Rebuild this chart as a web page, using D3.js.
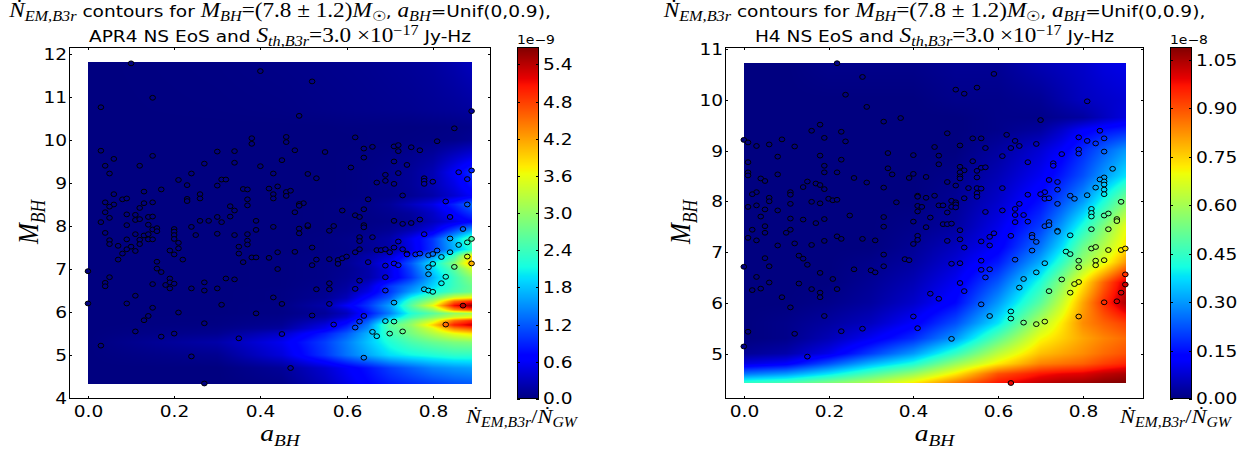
<!DOCTYPE html>
<html><head><meta charset="utf-8">
<script src="https://cdnjs.cloudflare.com/ajax/libs/d3/7.8.5/d3.min.js"></script>
<style>html,body{margin:0;padding:0;background:#fff}svg{display:block}</style></head>
<body><svg id="c" width="1250" height="452"></svg>
<script>
// ---------- data ----------
const xTicks=[0,0.2,0.4,0.6,0.8];
const yTicksL=[4,5,6,7,8,9,10,11,12];
const yTicksR=[5,6,7,8,9,10,11];
const cTicksL=[0,0.6,1.2,1.8,2.4,3.0,3.6,4.2,4.8,5.4];
const cTicksR=[0,0.15,0.30,0.45,0.60,0.75,0.90,1.05];
const colsL=[0,.3,.45,.55,.6,.65,.7,.75,.8,.85,.89];
const rowsL=[4.33,4.7,5,5.3,5.5,5.62,5.7,5.8,5.88,5.97,6.05,6.15,6.25,6.33,6.47,6.6,6.8,7,7.13,7.3,7.45,7.7,7.9,8.1,8.3,8.5,8.7,8.95,9.25,9.6,10,10.3,10.7,11.8];
const fieldL=[
[0,0,.05,.3,.5,.7,.85,.95,1.05,1.15,1.2],
[0,0,.12,.4,.6,.8,1.05,1.25,1.45,1.55,1.6],
[0,.08,.45,1,1.35,1.65,1.95,2.1,2.2,2.3,2.3],
[0,.2,.55,1.05,1.4,1.8,2.2,2.5,2.7,2.85,2.9],
[0,.08,.35,.85,1.2,1.7,2.4,2.8,3.2,3.6,3.8],
[0,.04,.15,.55,.95,1.5,2.5,2.9,3.5,4.4,4.7],
[0,.02,.1,.45,.8,1.4,2.6,3,3.9,5,5.3],
[0,.01,.07,.3,.6,1.2,2.1,2.8,3.4,4.5,4.9],
[0,.01,.05,.18,.4,.95,1.7,2.4,2.9,3.4,3.6],
[0,0,.03,.12,.3,.8,1.4,2.2,2.6,3,3.1],
[0,0,.03,.15,.4,.9,1.5,2.4,3,4.3,4.7],
[0,0,.03,.2,.6,1,1.6,2.6,3.6,5.1,5.6],
[0,0,.02,.15,.4,.9,1.4,2.4,3.1,4.5,4.9],
[0,0,.02,.1,.28,.75,1.2,2.1,2.7,3.5,3.7],
[0,0,.02,.08,.2,.5,1,1.6,2.1,2.5,2.7],
[0,0,.01,.06,.15,.4,1,1.4,1.9,2.4,2.7],
[0,0,.01,.04,.1,.2,.5,1,1.7,2.4,2.9],
[0,0,.01,.04,.08,.2,.5,1.1,1.9,2.6,3.4],
[0,0,.01,.04,.1,.25,.6,1.2,2,2.9,4.1],
[0,0,.01,.03,.08,.2,.4,.9,1.5,2.4,3.8],
[0,0,0,.02,.04,.1,.2,.5,1,1.7,2.2],
[0,0,0,.02,.05,.1,.2,.55,1,1.8,2.5],
[0,0,0,.01,.02,.05,.1,.25,.5,1.1,1.6],
[0,0,0,.01,.01,.03,.05,.1,.3,.5,.7],
[0,0,0,.01,.02,.04,.08,.15,.35,.7,1],
[0,0,0,.01,.03,.05,.12,.3,.5,.9,1.3],
[0,0,0,0,.01,.03,.05,.1,.2,.4,.6],
[0,0,0,0,.01,.03,.06,.12,.25,.5,.8],
[0,0,0,0,.01,.03,.06,.12,.25,.6,.95],
[0,0,0,0,.01,.02,.04,.08,.15,.35,.5],
[0,0,0,0,0,.01,.01,.02,.03,.05,.1],
[0,0,0,0,.01,.01,.01,.01,.02,.03,.05],
[0,.01,.02,.04,.05,.06,.07,.08,.1,.12,.15],
[0,.02,.04,.06,.07,.08,.1,.12,.15,.22,.3]];
const colsR=[0,.1,.2,.3,.4,.5,.6,.7,.75,.8,.85,.902];
const rowsR=[4.42,4.6,4.8,5,5.3,5.6,6,6.4,6.8,7.1,7.5,8,8.5,9,9.4,9.65,10,10.73];
const fieldR=[
[.45,.48,.55,.62,.72,.85,.97,1.03,1.05,1.06,1.08,1.09],
[.26,.3,.38,.48,.58,.72,.9,.97,.99,1,1.03,1.05],
[.09,.12,.22,.33,.42,.58,.72,.84,.86,.88,.92,.95],
[.02,.04,.1,.2,.3,.45,.63,.77,.8,.83,.87,.9],
[0,.01,.05,.11,.18,.3,.5,.7,.75,.8,.84,.87],
[0,.01,.03,.06,.12,.22,.38,.62,.72,.83,.88,.92],
[0,0,.01,.03,.07,.14,.3,.5,.64,.8,.94,1.05],
[0,0,0,.02,.05,.11,.23,.42,.56,.72,.88,1.02],
[0,0,0,.01,.03,.08,.16,.32,.44,.58,.68,.82],
[0,0,0,0,.02,.06,.12,.26,.37,.52,.62,.73],
[0,0,0,0,.01,.03,.1,.2,.3,.42,.55,.69],
[0,0,0,0,0,.02,.07,.15,.22,.3,.42,.55],
[0,0,0,0,0,.01,.05,.11,.16,.22,.3,.38],
[0,0,0,0,0,0,.03,.08,.12,.18,.24,.3],
[0,0,0,0,0,0,.01,.03,.07,.12,.15,.17],
[0,0,0,0,0,0,.01,.01,.02,.03,.06,.09],
[0,0,0,0,0,.01,.01,.02,.04,.06,.07,.08],
[0,0,.01,.01,.01,.02,.02,.05,.06,.07,.09,.1]];
const pointsL=[[.10,11.78],[.40,11.6],[.52,11.36],[.15,10.98],[.03,10.76],[.89,10.67],[.49,10.56],[.85,10.27],[.81,9.97],[.38,10.04],[.38,9.91],[.46,10.07],[.46,9.95],[.62,10.06],[.64,9.8],[.66,9.84],[.71,9.85],[.72,9.88],[.72,9.74],[.75,9.83],[.77,9.76],[.03,9.75],[.15,9.63],[.06,9.56],[.30,9.73],[.34,9.74],[.48,9.76],[.55,9.72],[.45,9.53],[.64,9.59],[.71,9.5],[.27,9.45],[.34,9.47],[.04,9.4],[.12,9.4],[.40,9.39],[.74,9.42],[.61,9.36],[.05,9.22],[.24,9.22],[.43,9.22],[.51,9.21],[.69,9.19],[.72,9.23],[.86,9.25],[.89,9.29],[.88,9.09],[.53,9.11],[.78,9.11],[.78,9.05],[.78,8.98],[.80,9.03],[.69,9.05],[.67,9.01],[.71,8.98],[.21,9.07],[.31,9.08],[.32,9.08],[.23,8.95],[.30,8.94],[.44,8.92],[.17,8.85],[.13,8.8],[.36,8.86],[.37,8.85],[.42,8.87],[.43,8.74],[.46,8.79],[.47,8.82],[.46,8.7],[.26,8.74],[.26,8.64],[.23,8.63],[.23,8.58],[.73,8.71],[.06,8.74],[.08,8.62],[.09,8.64],[.65,8.62],[.37,8.62],[.43,8.64],[.83,8.57],[.88,8.5],[.04,8.55],[.13,8.53],[.15,8.55],[.06,8.5],[.05,8.45],[.50,8.53],[.49,8.51],[.49,8.47],[.37,8.48],[.33,8.46],[.34,8.36],[.12,8.42],[.59,8.36],[.64,8.39],[.04,8.32],[.05,8.19],[.09,8.27],[.11,8.26],[.11,8.14],[.12,8.16],[.14,8.21],[.15,8.22],[.48,8.32],[.62,8.25],[.63,8.21],[.84,8.21],[.30,8.21],[.33,8.22],[.03,8.09],[.26,8.12],[.28,8.12],[.31,8.09],[.39,8.12],[.71,8.12],[.73,8.05],[.75,8.07],[.77,8.15],[.09,8.02],[.14,8.03],[.24,7.98],[.43,7.98],[.51,7.99],[.51,8.02],[.57,8.0],[.64,8.02],[.64,7.97],[.87,7.93],[.15,7.92],[.16,7.95],[.2,7.93],[.39,7.91],[.49,7.94],[.56,7.89],[.04,7.84],[.11,7.81],[.13,7.78],[.14,7.81],[.16,7.88],[.2,7.87],[.2,7.79],[.2,7.7],[.25,7.79],[.30,7.82],[.34,7.79],[.37,7.81],[.49,7.83],[.09,7.69],[.12,7.68],[.14,7.69],[.15,7.69],[.05,7.67],[.05,7.58],[.12,7.58],[.21,7.61],[.37,7.66],[.37,7.57],[.07,7.54],[.10,7.52],[.35,7.52],[.21,7.48],[.19,7.43],[.09,7.46],[.11,7.42],[.08,7.36],[.2,7.34],[.35,7.36],[.44,7.39],[.48,7.4],[.52,7.5],[.38,7.27],[.39,7.27],[.42,7.26],[.07,7.22],[.22,7.22],[.53,7.22],[.56,7.23],[.58,7.21],[.59,7.25],[.6,7.29],[.16,7.17],[.36,7.16],[.58,7.12],[.65,7.16],[.52,7.09],[.71,7.13],[.72,7.09],[.69,7.08],[.62,7.39],[.63,7.46],[.63,7.74],[.63,7.65],[.66,7.74],[.67,7.44],[.68,7.44],[.69,7.46],[.70,7.39],[.71,7.5],[.72,7.64],[.73,7.46],[.74,7.36],[.74,7.34],[.76,7.34],[.77,7.36],[.78,7.81],[.79,7.32],[.80,7.35],[.81,7.43],[.82,7.28],[.84,7.39],[.84,7.71],[.86,7.56],[.88,7.62],[.89,7.7],[.88,7.29],[.89,7.13],[.85,7.05],[.80,7.12],[.79,7.04],[.79,6.88],[.83,6.82],[.82,6.67],[.78,6.53],[.79,6.5],[.80,6.47],[.69,6.81],[.63,6.73],[.56,6.67],[.62,6.54],[.56,6.53],[.53,6.53],[.69,6.5],[.44,7.0],[.16,7.01],[.17,6.93],[0,6.95],[.05,6.81],[.04,6.68],[.04,6.6],[.15,6.65],[.19,6.78],[.19,6.69],[.2,6.66],[.18,6.63],[.19,6.55],[.24,6.55],[.27,6.69],[.27,6.5],[.30,6.55],[.32,6.78],[.34,6.76],[.11,6.38],[.43,6.34],[0,6.2],[.09,6.2],[.15,6.1],[.31,6.17],[.45,6.19],[.56,6.19],[.71,6.22],[.87,6.15],[.21,5.99],[.39,5.97],[.14,5.91],[.52,5.92],[.64,5.91],[.13,5.81],[.63,5.78],[.69,5.79],[.71,5.78],[.27,5.74],[.57,5.71],[.83,5.71],[.62,5.64],[.11,5.55],[.2,5.5],[.45,5.49],[.66,5.54],[.67,5.44],[.70,5.5],[.73,5.55],[.17,5.43],[.35,5.39],[.03,5.22],[.24,4.97],[.64,4.94],[.47,4.7],[.27,4.34]];
const pointsR=[[.22,10.72],[.28,10.45],[.59,10.51],[.24,10.1],[.5,10.2],[.52,10.12],[.55,10.24],[.81,9.97],[.29,9.86],[.37,9.64],[.33,9.57],[.70,9.6],[.18,9.51],[.16,9.39],[.84,9.39],[0,9.21],[.23,9.37],[.48,9.34],[.62,9.31],[.19,9.25],[.09,9.22],[.54,9.24],[.56,9.24],[.79,9.26],[.85,9.24],[.64,9.19],[.01,9.16],[.24,9.18],[.81,9.19],[.83,9.14],[.03,9.09],[.06,9.12],[.12,9.08],[.51,9.1],[.45,9.07],[.65,9.09],[.69,9.13],[.63,9.05],[.57,9.05],[.79,9.02],[.79,8.94],[.85,8.98],[.34,8.95],[.4,8.91],[.46,8.9],[.18,8.9],[.08,8.88],[.61,8.89],[.75,8.93],[.54,8.79],[.23,8.82],[.01,8.77],[.67,8.77],[.73,8.75],[.73,8.7],[.19,8.7],[.46,8.73],[.51,8.68],[.56,8.66],[.57,8.67],[.34,8.65],[.52,8.61],[.55,8.6],[.87,8.64],[.01,8.57],[.01,8.51],[.08,8.53],[.19,8.57],[.22,8.57],[.35,8.53],[.4,8.54],[.51,8.57],[.51,8.49],[.51,8.45],[.04,8.45],[.05,8.4],[.26,8.46],[.39,8.46],[.43,8.48],[.55,8.47],[.85,8.47],[.84,8.43],[.85,8.39],[.72,8.42],[.74,8.38],[.15,8.39],[.14,8.28],[.17,8.35],[.18,8.32],[.29,8.37],[.48,8.38],[.5,8.31],[.19,8.24],[.33,8.27],[.53,8.26],[.55,8.26],[.56,8.25],[.61,8.26],[.83,8.27],[.85,8.33],[.85,8.23],[.85,8.14],[.74,8.23],[.03,8.18],[.02,8.14],[.11,8.18],[.11,8.13],[.55,8.16],[.55,8.09],[.71,8.18],[.70,8.14],[.67,8.13],[.77,8.11],[.78,8.05],[.81,8.12],[.71,8.05],[.72,8.06],[.2,8.05],[.21,8.02],[.22,8.03],[.06,8.07],[.06,8.0],[.16,7.99],[.18,7.96],[.11,7.95],[.36,7.98],[.41,8.11],[.41,8.09],[.43,8.07],[.45,8.11],[.49,8.01],[.5,7.98],[.5,7.94],[.52,8.06],[.89,7.99],[.74,7.95],[.65,7.95],[.01,7.89],[.03,7.92],[.41,7.91],[.42,7.89],[.46,7.92],[.47,7.92],[.49,7.89],[.5,7.88],[.05,7.84],[.08,7.82],[.41,7.8],[.48,7.78],[.57,7.79],[.61,7.82],[.64,7.85],[.64,7.73],[.66,7.73],[.82,7.85],[.82,7.77],[.82,7.7],[.85,7.72],[.86,7.76],[.25,7.72],[.04,7.7],[.11,7.66],[.14,7.64],[.19,7.65],[.33,7.69],[.44,7.68],[.64,7.59],[.67,7.6],[.4,7.6],[.88,7.65],[.88,7.61],[.72,7.59],[.71,7.51],[.72,7.53],[.17,7.57],[.47,7.55],[.48,7.55],[.49,7.56],[.05,7.51],[.33,7.5],[.43,7.49],[.51,7.43],[.82,7.45],[.86,7.45],[.74,7.42],[.02,7.44],[.11,7.44],[.01,7.28],[.03,7.23],[.05,7.38],[.1,7.38],[.12,7.17],[.08,7.13],[.16,7.14],[.19,7.22],[.22,7.31],[.23,7.26],[.28,7.26],[.31,7.23],[.4,7.16],[.41,7.32],[.41,7.24],[.48,7.22],[.51,7.25],[.52,7.09],[.56,7.21],[.58,7.3],[.58,7.13],[.59,7.37],[.63,7.32],[.68,7.34],[.68,7.29],[.69,7.2],[.68,7.03],[.74,7.4],[.77,7.33],[.76,7.01],[.77,6.96],[.82,7.07],[.83,7.1],[.86,7.04],[.89,7.04],[.9,7.07],[.33,6.95],[.13,6.93],[.14,6.87],[.05,6.88],[.15,6.75],[0,6.71],[.06,6.72],[.33,6.72],[.3,6.64],[.31,6.6],[.26,6.66],[.38,6.86],[.39,6.84],[.49,6.77],[.51,6.78],[.56,6.83],[.56,6.65],[.58,6.66],[.57,6.5],[.64,6.85],[.71,6.78],[.69,6.6],[.79,6.83],[.79,6.7],[.83,6.83],[.83,6.74],[.85,6.84],[.9,6.56],[.9,6.36],[.18,6.59],[.03,6.51],[.21,6.47],[.66,6.47],[.75,6.46],[.79,6.41],[.78,6.37],[.06,6.4],[.51,6.39],[.13,6.38],[.65,6.3],[.04,6.28],[.16,6.27],[.22,6.27],[.02,6.25],[.52,6.23],[.72,6.23],[.18,6.2],[.18,6.11],[.09,6.11],[.44,6.18],[.46,6.08],[.77,6.2],[.89,6.2],[.85,6.01],[.88,6.03],[.11,5.91],[.56,5.97],[.63,5.83],[.19,5.74],[.4,5.73],[.58,5.74],[.79,5.73],[.63,5.69],[.66,5.61],[.69,5.58],[.71,5.63],[.41,5.5],[.28,5.49],[.23,5.44],[.01,5.43],[.12,5.39],[.49,5.29],[0,5.14],[.15,4.94],[.63,4.42]];
const jetR=[[0,0],[.35,0],[.66,1],[.89,1],[1,.5]];
const jetG=[[0,0],[.125,0],[.375,1],[.64,1],[.91,0],[1,0]];
const jetB=[[0,.5],[.11,1],[.34,1],[.65,0],[1,0]];
// ---------- drawing ----------
const ch=a=>d3.scaleLinear().domain(a.map(d=>d[0])).range(a.map(d=>d[1]*255)).clamp(true);
const cR=ch(jetR),cG=ch(jetG),cB=ch(jetB);
const svg=d3.select('#c');
const SANS='"DejaVu Sans"',MATH='"Liberation Serif"',SX=1.16;
function lookup(cols,rows,f,a,m){
  const i=Math.max(0,Math.min(cols.length-2,d3.bisectRight(cols,a)-1));
  const j=Math.max(0,Math.min(rows.length-2,d3.bisectRight(rows,m)-1));
  const u=Math.max(0,Math.min(1,(a-cols[i])/(cols[i+1]-cols[i])));
  const v=Math.max(0,Math.min(1,(m-rows[j])/(rows[j+1]-rows[j])));
  return (f[j][i]*(1-u)+f[j][i+1]*u)*(1-v)+(f[j+1][i]*(1-u)+f[j+1][i+1]*u)*v;
}
function label(g,x,y,anchor,size,str){
  return g.append('text').attr('transform',`translate(${x},${y}) scale(${SX},1)`).attr('text-anchor',anchor).attr('font-family',SANS).attr('font-size',size).text(str);
}
function rich(g,x,y,anchor,size,segs,rot){
  const t=g.append('text').attr('text-anchor',anchor).attr('font-size',size).attr('fill','#000').attr('font-family',SANS)
    .attr('transform',`translate(${x},${y}) scale(${SX},1)`+(rot?` rotate(${rot})`:''));
  let cur=0;
  segs.forEach(s=>{
    const kind=s[1]||'';
    const off=kind.includes('sub')?size*.28:kind.includes('sup')?-size*.45:0;
    const ts=t.append('tspan').text(s[0]);
    if(off!==cur){ts.attr('dy',off-cur);cur=off;}
    if(kind.includes('m'))ts.attr('font-family',MATH);
    if(kind.includes('i'))ts.attr('font-style','italic');
    if(kind.includes('sub')||kind.includes('sup'))ts.attr('font-size',size*.875);
    else if(kind.includes('m'))ts.attr('font-size',size*1.25);
  });
  return t;
}
function panel(c){
  const x=d3.scaleLinear().domain(c.xd).range([c.L,c.R]);
  const y=d3.scaleLinear().domain(c.yd).range([c.B,c.T]);
  const col=d3.scaleLinear().domain([0,c.vmax]).range([0,1]).clamp(true);
  const rgb=v=>{const t=col(v);return [cR(t),cG(t),cB(t)];};
  const g=svg.append('g');
  const px0=Math.round(x(c.cols[0])),px1=Math.round(x(c.cols[c.cols.length-1]));
  const py0=Math.round(y(c.rows[c.rows.length-1])),py1=Math.round(y(c.rows[0]));
  const cv=document.createElement('canvas');cv.width=px1-px0;cv.height=py1-py0;
  const ctx=cv.getContext('2d'),im=ctx.createImageData(cv.width,cv.height);
  for(let j=0;j<cv.height;j++)for(let i=0;i<cv.width;i++){
    const v=lookup(c.cols,c.rows,c.f,x.invert(px0+i+.5),y.invert(py0+j+.5));
    const k=(j*cv.width+i)*4,p=rgb(v);
    im.data[k]=p[0];im.data[k+1]=p[1];im.data[k+2]=p[2];im.data[k+3]=255;
  }
  ctx.putImageData(im,0,0);
  g.append('image').attr('x',px0).attr('y',py0).attr('width',cv.width).attr('height',cv.height).attr('href',cv.toDataURL());
  g.append('g').selectAll('ellipse').data(c.pts).join('ellipse')
    .attr('cx',d=>x(d[0])).attr('cy',d=>y(d[1])).attr('rx',2.8).attr('ry',2.4)
    .attr('fill',d=>{const p=rgb(lookup(c.cols,c.rows,c.f,d[0],d[1]));return `rgb(${p.map(Math.round)})`;})
    .attr('stroke','#000').attr('stroke-width',1);
  g.append('rect').attr('x',c.L+.5).attr('y',c.T+.5).attr('width',c.R-c.L-1).attr('height',c.B-c.T-1).attr('fill','none').attr('stroke','#000').attr('stroke-width',1);
  const tk=(x1,y1,x2,y2)=>g.append('line').attr('x1',x1).attr('y1',y1).attr('x2',x2).attr('y2',y2).attr('stroke','#000').attr('stroke-width',1);
  c.xt.forEach(t=>{const p=Math.round(x(t))+.5;tk(p,c.B,p,c.B-3);tk(p,c.T,p,c.T+3);
    label(g,p,c.B+18,'middle',16,t.toFixed(1));});
  c.yt.forEach(t=>{const p=Math.round(y(t))+.5;tk(c.L,p,c.L+3,p);tk(c.R,p,c.R-3,p);
    label(g,c.L-2,p+5.8,'end',16,String(t));});
  const mid=(c.L+c.R)/2;
  rich(g,mid,16.7,'middle',16,[['Ṅ','mi'],['EM,B3r','mi sub'],[' contours for '],['M','mi'],['BH','mi sub'],['=(7.8 ± 1.2)','m'],['M','mi'],['☉','m sub'],[', '],['a','mi'],['BH','mi sub'],['=Unif(0,0.9),']]);
  rich(g,mid,41.7,'middle',16,[[c.eos+' NS EoS and '],['S','mi'],['th,B3r','mi sub'],['=3.0 ×10','m'],['−17','m sup'],[' Jy-Hz']]);
  rich(g,mid,441,'middle',19,[['a','mi'],['BH','mi sub']]);
  rich(g,c.yl,222,'middle',20,[['M','mi'],['BH','mi sub']],-90);
  const cy=d3.scaleLinear().domain([0,c.vmax]).range([c.B,c.T]);
  const bar=document.createElement('canvas');bar.width=1;bar.height=c.B-c.T;
  const bc=bar.getContext('2d'),bi=bc.createImageData(1,bar.height);
  for(let j=0;j<bar.height;j++){const p=rgb(cy.invert(c.T+j+.5));bi.data[j*4]=p[0];bi.data[j*4+1]=p[1];bi.data[j*4+2]=p[2];bi.data[j*4+3]=255;}
  bc.putImageData(bi,0,0);
  g.append('image').attr('x',c.cL).attr('y',c.T).attr('width',c.cR-c.cL).attr('height',c.B-c.T).attr('preserveAspectRatio','none').attr('href',bar.toDataURL());
  g.append('rect').attr('x',c.cL+.5).attr('y',c.T+.5).attr('width',c.cR-c.cL-1).attr('height',c.B-c.T-1).attr('fill','none').attr('stroke','#000');
  c.ct.forEach(t=>{const p=Math.round(cy(t))+.5;tk(c.cL,p,c.cL+3,p);tk(c.cR,p,c.cR-3,p);
    label(g,c.cR+4,p+5.8+(t===0?-1.5:0),'start',16,t.toFixed(c.cd));});
  label(g,c.cL,c.T-3,'start',12,c.off);
  rich(g,c.lbl,423,'start',15.5,[['Ṅ','mi'],['EM,B3r','mi sub'],['/','m'],['Ṅ','mi'],['GW','mi sub']]);
}
panel({L:69,R:491,T:47,B:399,xd:[-.044,.935],yd:[3.98,12.16],cols:colsL,rows:rowsL,f:fieldL,pts:pointsL,vmax:5.68,xt:xTicks,yt:yTicksL,ct:cTicksL,cd:1,eos:'APR4',cL:517,cR:539,off:'1e−9',lbl:466,yl:38});
panel({L:725,R:1144,T:47,B:399,xd:[-.0443,.944],yd:[4.105,11.04],cols:colsR,rows:rowsR,f:fieldR,pts:pointsR,vmax:1.09,xt:xTicks,yt:yTicksR,ct:cTicksR,cd:2,eos:'H4',cL:1170,cR:1192,off:'1e−8',lbl:1120,yl:690});
</script></body></html>
